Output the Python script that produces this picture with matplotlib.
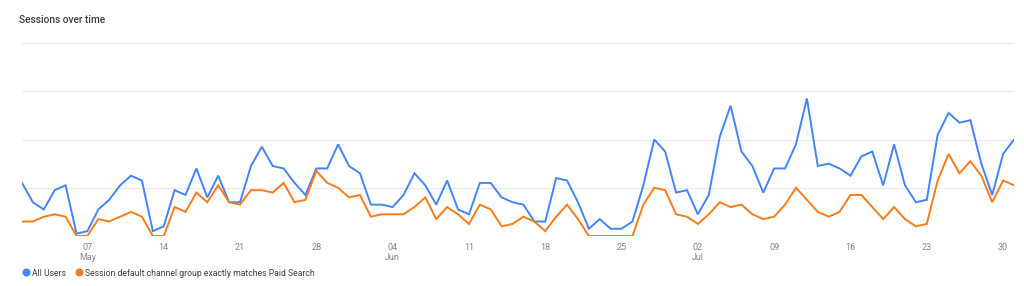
#!/usr/bin/env python
"""Sessions over time: all users vs. paid search sessions, May - July."""

import pandas as pd
from matplotlib import pyplot as plt
from matplotlib.lines import Line2D

start_date = '2023-05-01'

all_users = [22, 14, 11, 19, 21, 1, 2, 11, 15, 21, 25, 23, 2, 4, 19, 17,
             28, 16, 25, 14, 14, 29, 37, 29, 28, 22, 17, 28, 28, 38, 29, 26,
             13, 13, 12, 17, 26, 21, 13, 23, 11, 9, 22, 22, 16, 14, 13, 6,
             6, 24, 23, 14, 3, 7, 3, 3, 6, 21, 40, 35, 18, 19, 9, 17,
             41, 54, 35, 29, 18, 28, 28, 38, 57, 29, 30, 28, 25, 33, 35, 21,
             38, 21, 14, 15, 42, 51, 47, 48, 30, 17, 34, 40]

paid_search = [6, 6, 8, 9, 8, 0, 0, 7, 6, 8, 10, 8, 0, 0, 12, 10,
               18, 14, 21, 14, 13, 19, 19, 18, 22, 14, 15, 27, 22, 20, 16, 17,
               8, 9, 9, 9, 12, 16, 7, 12, 9, 5, 13, 11, 4, 5, 8, 6,
               2, 8, 13, 7, 0, 0, 0, 0, 0, 13, 20, 19, 9, 8, 5, 9,
               14, 12, 13, 9, 7, 8, 13, 20, 15, 10, 8, 10, 17, 17, 12, 7,
               12, 7, 4, 5, 23, 34, 26, 31, 25, 14, 23, 21]

series_labels = ['All Users',
                 'Session default channel group exactly matches Paid Search']

BLUE = '#4285f4'
ORANGE = '#fa7b17'


def make_tick_labels(ticks):
    labels = []
    seen = set()
    for t in ticks:
        if t.month not in seen:
            seen.add(t.month)
            labels.append(t.strftime('%d') + '\n' + t.strftime('%b'))
        else:
            labels.append(t.strftime('%d'))
    return labels


def main():
    plt.rcParams['font.family'] = ['Roboto', 'DejaVu Sans']

    dates = pd.date_range(start_date, periods=len(all_users), freq='D')

    fig = plt.figure(figsize=(10.24, 2.86), dpi=100)
    ax = fig.add_axes([22 / 1024, 1 - 236 / 286, 992 / 1024, 193 / 286])

    ax.plot(dates, all_users, color=BLUE, lw=1.4, solid_joinstyle='miter')
    ax.plot(dates, paid_search, color=ORANGE, lw=1.4, solid_joinstyle='miter')

    ax.set_xlim(dates[0], dates[-1])
    ax.set_ylim(0, 80)
    ax.set_yticks([0, 20, 40, 60, 80])
    ax.set_yticklabels([])
    ax.grid(axis='y', color='#e8eaed', lw=0.9)
    ax.set_axisbelow(True)
    for s in ax.spines.values():
        s.set_visible(False)

    ticks = pd.date_range('2023-05-07', dates[-1], freq='7D')
    ax.set_xticks(ticks)
    ax.set_xticklabels(make_tick_labels(ticks), fontsize=6.5,
                       color='#80868b', linespacing=1.1, va='top')
    ax.tick_params(axis='both', length=0, pad=5)

    fig.text(19 / 1024, 1 - 20 / 286, 'Sessions over time', fontsize=7.3,
             color='#3c4043', fontweight='medium', va='center', ha='left')

    handles = [Line2D([], [], marker='o', ls='none', markersize=4.8,
                      color=c) for c in (BLUE, ORANGE)]
    fig.legend(handles, series_labels, loc='center left',
               bbox_to_anchor=(23 / 1024, 1 - 273 / 286), ncol=2,
               frameon=False, fontsize=6.2, handlelength=0.6,
               handletextpad=0.45, columnspacing=1.2, borderpad=0,
               borderaxespad=0, labelcolor='#3c4043')

    fig.savefig('out.png', dpi=100)


if __name__ == '__main__':
    main()
